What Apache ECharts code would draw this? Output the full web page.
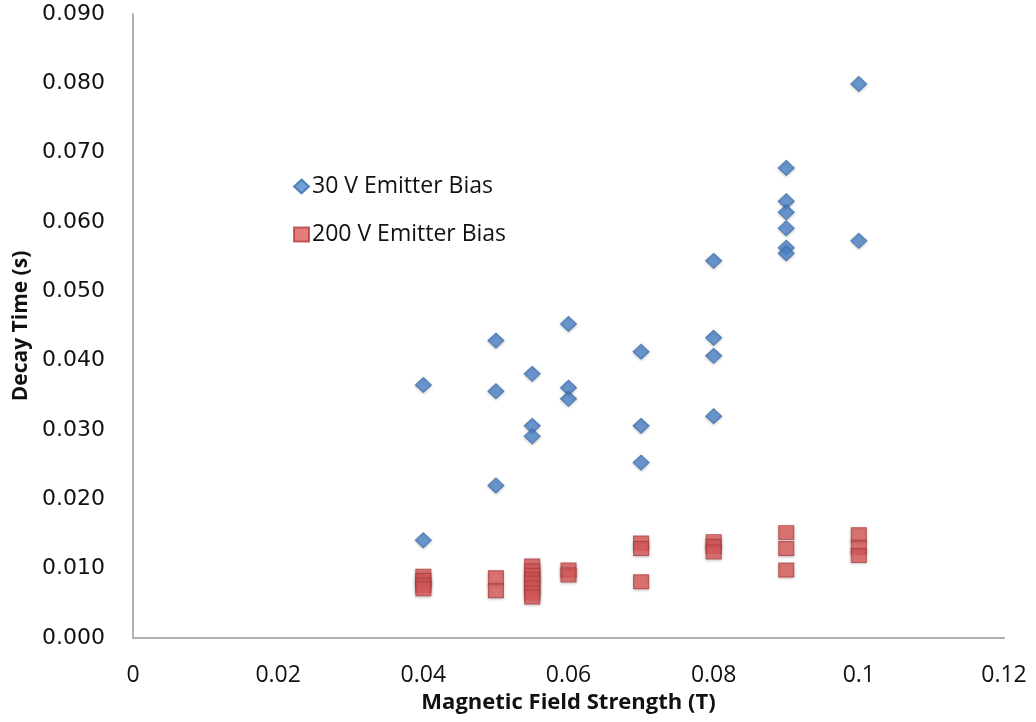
<!DOCTYPE html>
<html>
<head>
<meta charset="utf-8">
<title>Decay Time vs Magnetic Field Strength</title>
<script src="https://cdn.jsdelivr.net/npm/echarts@6/dist/echarts.min.js"></script>
<style>
  html, body { margin: 0; padding: 0; background: #fff; }
  #chart { width: 1036px; height: 722px; }
</style>
</head>
<body>
<div id="chart"></div>
<script>
// field strength (T) and decay time (s)
const bias30X = [0.04, 0.04, 0.05, 0.05, 0.05, 0.055, 0.055, 0.055, 0.06, 0.06, 0.06,
                 0.07, 0.07, 0.07, 0.08, 0.08, 0.08, 0.08,
                 0.09, 0.09, 0.09, 0.09, 0.09, 0.09, 0.1, 0.1];
const bias30Y = [0.0365, 0.0141, 0.0429, 0.0356, 0.0220, 0.0381, 0.0306, 0.0291, 0.0453, 0.0361, 0.0345,
                 0.0413, 0.0306, 0.0253, 0.0544, 0.0433, 0.0407, 0.0320,
                 0.0678, 0.0630, 0.0614, 0.0591, 0.0563, 0.0555, 0.0799, 0.0573];

const bias200X = [0.04, 0.04, 0.04, 0.04, 0.05, 0.05,
                  0.055, 0.055, 0.055, 0.055, 0.055, 0.055, 0.055, 0.055,
                  0.06, 0.06, 0.07, 0.07, 0.07, 0.08, 0.08, 0.08,
                  0.09, 0.09, 0.09, 0.1, 0.1, 0.1];
const bias200Y = [0.0089, 0.0083, 0.0076, 0.0071, 0.0087, 0.0068,
                  0.0104, 0.0097, 0.0090, 0.0084, 0.0079, 0.0072, 0.0065, 0.0059,
                  0.0098, 0.0091, 0.0137, 0.0129, 0.0081, 0.0139, 0.0132, 0.0124,
                  0.0152, 0.0129, 0.0098, 0.0149, 0.0131, 0.0119];

const seriesNames = ['30 V Emitter Bias', '200 V Emitter Bias'];

function pairs(xs, ys) {
    return xs.map(function (x, i) { return [x, ys[i]]; });
}

const chart = echarts.init(document.getElementById('chart'));

chart.setOption({
    animation: false,
    backgroundColor: '#fff',
    grid: { left: 133, right: 32, top: 14, bottom: 84, containLabel: false },
    legend: {
        orient: 'vertical',
        left: 288,
        top: 170,
        itemWidth: 15,
        itemHeight: 14,
        itemGap: 25,
        data: [
            { name: seriesNames[0], icon: 'diamond' },
            { name: seriesNames[1], icon: 'rect' }
        ],
        textStyle: { fontFamily: 'Open Sans', fontSize: 23, color: '#111', padding: [0, 0, 0, -2] }
    },
    xAxis: {
        type: 'value',
        min: 0,
        max: 0.12,
        interval: 0.02,
        name: 'Magnetic Field Strength (T)',
        nameLocation: 'middle',
        nameGap: 50,
        nameTextStyle: { fontFamily: 'Open Sans', fontWeight: 'bold', fontSize: 22, color: '#111' },
        splitLine: { show: false },
        axisTick: { show: false },
        axisLine: { lineStyle: { color: '#b0b0b0', width: 2 } },
        axisLabel: {
            fontFamily: 'Open Sans', fontSize: 23, color: '#111', margin: 26,
            formatter: function (v) { return String(Math.round(v * 100) / 100); }
        }
    },
    yAxis: {
        type: 'value',
        min: 0,
        max: 0.09,
        interval: 0.01,
        name: 'Decay Time (s)',
        nameLocation: 'middle',
        nameGap: 97,
        nameTextStyle: { fontFamily: 'Open Sans', fontWeight: 'bold', fontSize: 21, color: '#111' },
        splitLine: { show: false },
        axisTick: { show: false },
        axisLine: { show: true, lineStyle: { color: '#b0b0b0', width: 2 } },
        axisLabel: {
            fontFamily: 'DejaVu Sans', fontSize: 22, color: '#111', margin: 28,
            formatter: function (v) { return v.toFixed(3); }
        }
    },
    series: [
        {
            name: seriesNames[0],
            type: 'scatter',
            symbol: 'diamond',
            symbolSize: [16, 15],
            data: pairs(bias30X, bias30Y),
            itemStyle: {
                color: '#4f86cc',
                borderColor: '#3b6fae',
                borderWidth: 1,
                shadowBlur: 3,
                shadowColor: 'rgba(0,0,0,0.25)',
                shadowOffsetY: 1
            }
        },
        {
            name: seriesNames[1],
            type: 'scatter',
            symbol: 'rect',
            symbolSize: [15, 14],
            data: pairs(bias200X, bias200Y),
            itemStyle: {
                color: '#df5c5c',
                borderColor: '#b23f3f',
                borderWidth: 1,
                shadowBlur: 3,
                shadowColor: 'rgba(0,0,0,0.3)',
                shadowOffsetY: 1
            }
        }
    ]
});
</script>
</body>
</html>
